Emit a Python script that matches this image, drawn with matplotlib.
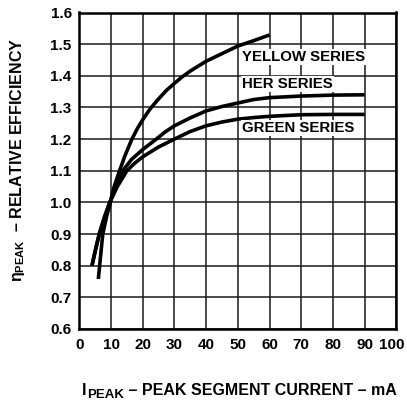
import matplotlib
matplotlib.use("Agg")
import matplotlib.pyplot as plt
from matplotlib.transforms import ScaledTranslation

plt.rcParams['font.family'] = ['Liberation Sans', 'DejaVu Sans']
plt.rcParams['font.weight'] = 'bold'
plt.rcParams['mathtext.fontset'] = 'custom'
plt.rcParams['mathtext.rm'] = 'Liberation Sans:bold'
plt.rcParams['mathtext.bf'] = 'Liberation Sans:bold'
plt.rcParams['mathtext.it'] = 'Liberation Sans:bold'

# Data
yellow_x = [6.0, 7.4, 8.6, 9.8, 11.0, 12.7, 14.5, 16.6, 18.3, 20, 22.3, 25, 27.5, 30, 32.5, 35, 40, 45, 50, 55, 60]
yellow_y = [0.758, 0.90, 0.955, 1.00, 1.05, 1.10, 1.15, 1.20, 1.233, 1.261, 1.295, 1.327, 1.354, 1.376, 1.397, 1.415, 1.446, 1.470, 1.494, 1.511, 1.529]

her_x = [4.0, 5.1, 6.3, 8.0, 9.6, 11.5, 13.7, 16.5, 20, 24.3, 27, 30, 35, 40, 45, 50, 55, 60, 70, 80, 90]
her_y = [0.80, 0.85, 0.90, 0.955, 1.00, 1.05, 1.10, 1.136, 1.167, 1.200, 1.222, 1.242, 1.267, 1.289, 1.303, 1.314, 1.325, 1.331, 1.336, 1.339, 1.340]

green_x = [4.0, 5.1, 6.3, 8.0, 9.6, 12.0, 15, 17.5, 20, 25, 30, 35, 40, 45, 50, 55, 60, 70, 80, 90]
green_y = [0.80, 0.85, 0.90, 0.955, 1.00, 1.05, 1.10, 1.124, 1.144, 1.175, 1.200, 1.224, 1.242, 1.254, 1.263, 1.268, 1.272, 1.277, 1.278, 1.278]

series_labels = ["YELLOW SERIES", "HER SERIES", "GREEN SERIES"]
label_x = [51.4, 51.4, 51.4]
label_y = [1.459, 1.374, 1.235]

x_ticks = [0, 10, 20, 30, 40, 50, 60, 70, 80, 90, 100]
y_ticks = [0.6, 0.7, 0.8, 0.9, 1.0, 1.1, 1.2, 1.3, 1.4, 1.5, 1.6]

fig = plt.figure(figsize=(4.07, 4.03), dpi=100)
ax = fig.add_axes([79.3/407, 1-329/403, (396.3-79.3)/407, (329-12.5)/403])

ax.set_xlim(0, 100)
ax.set_ylim(0.6, 1.6)
ax.set_xticks(x_ticks)
ax.set_yticks(y_ticks)
ax.set_xticklabels([str(v) for v in x_ticks])
ax.set_yticklabels([f"{v:.1f}" for v in y_ticks])
ax.tick_params(length=0, labelsize=11)
ax.tick_params(axis='x', pad=6.5)
ax.tick_params(axis='y', pad=5.5)
ax.grid(True, color='#1a1a1a', linewidth=1.1)
ax.set_axisbelow(True)
for s in ax.spines.values():
    s.set_linewidth(1.8)
    s.set_color('black')

for xs, ys in [(yellow_x, yellow_y), (her_x, her_y), (green_x, green_y)]:
    ax.plot(xs, ys, color='black', linewidth=2.6, solid_capstyle='butt',
            solid_joinstyle='round', zorder=3)

for t, lx, ly in zip(series_labels, label_x, label_y):
    ax.text(lx, ly, t, fontsize=10.8, fontweight='bold', ha='left', va='center',
            bbox=dict(facecolor='white', edgecolor='none', pad=0.8), zorder=4)

# x axis label: I + subscript PEAK + rest
t1 = fig.text(82/407, 8/403, "I", ha='left', va='baseline', fontsize=11.5, fontweight='bold')
t2 = ax.annotate("PEAK", xy=(1, 0), xycoords=t1, xytext=(0.3, 0), textcoords='offset points',
                 ha='left', va='baseline', fontsize=9.5, fontweight='bold', annotation_clip=False)
t3 = ax.annotate(" – PEAK SEGMENT CURRENT – mA", xy=(1, 0), xycoords=(t2, t1),
                 ha='left', va='bottom', fontsize=11.5, fontweight='bold', annotation_clip=False)

fig.text(17.5/407, 1-160/403, r"η$_{\mathbf{PEAK}}$  – RELATIVE EFFICIENCY",
         ha='center', va='center', rotation=90, fontsize=11.5, fontweight='bold')

# keep the last x tick label inside the canvas
last = ax.xaxis.get_major_ticks()[-1].label1
last.set_transform(last.get_transform() + ScaledTranslation(-3/72, 0, fig.dpi_scale_trans))

fig.savefig("out.png", dpi=100)
